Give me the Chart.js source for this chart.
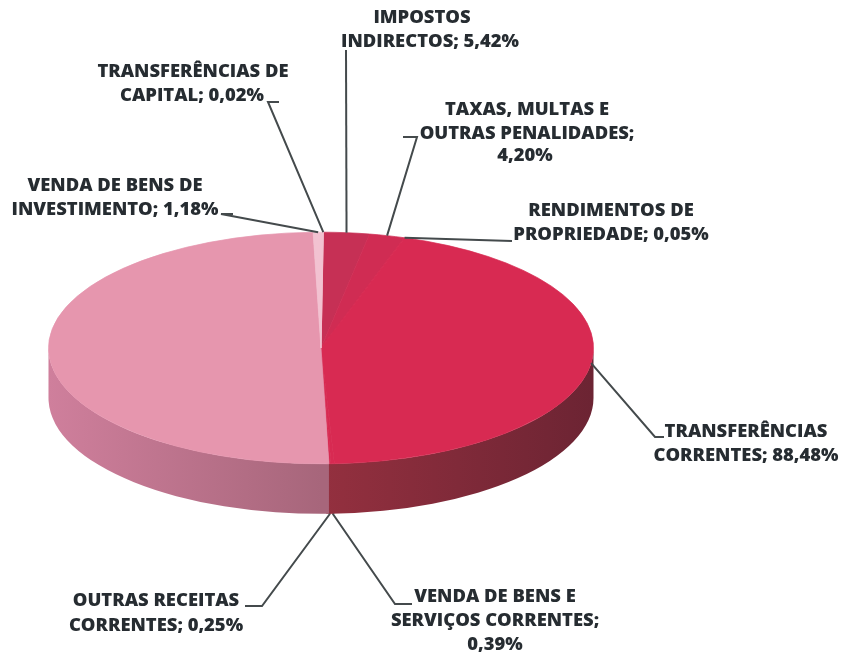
<!DOCTYPE html>
<html><head><meta charset="utf-8">
<style>html,body{margin:0;padding:0;background:#fff}canvas{display:block}</style>
<script src="https://cdn.jsdelivr.net/npm/chart.js@4"></script>
</head><body><canvas id="c" width="842" height="657"></canvas>
<script>
// The reference pie also contains a 100% total row, which is the unlabelled pink half.
const categories = ["IMPOSTOS INDIRECTOS","TAXAS, MULTAS E OUTRAS PENALIDADES","RENDIMENTOS DE PROPRIEDADE","TRANSFERÊNCIAS CORRENTES","VENDA DE BENS E SERVIÇOS CORRENTES","OUTRAS RECEITAS CORRENTES","TOTAL","VENDA DE BENS DE INVESTIMENTO","TRANSFERÊNCIAS DE CAPITAL"];
const values = [5.42,4.20,0.05,88.48,0.39,0.25,100,1.18,0.02];
const faceColors = ["#c63055","#d02c53","#d82a52","#d82a52","#d82a52","#d82a52","#e696ae","#f2c2d1","#f2c2d1"];
const wallStops = {red:["#94303f","#6c2433"],pink:["#cf7f9c","#a7667b"]};
const labelLines = [
 [["IMPOSTOS",422,18],["INDIRECTOS; 5,42%",430,42]],
 [["TAXAS, MULTAS E",527,110],["OUTRAS PENALIDADES;",527,134],["4,20%",525,156]],
 [["RENDIMENTOS DE",611,211],["PROPRIEDADE; 0,05%",611,235]],
 [["TRANSFERÊNCIAS",746,432],["CORRENTES; 88,48%",746,456]],
 [["VENDA DE BENS E",495,597],["SERVIÇOS CORRENTES;",495,621],["0,39%",495,645]],
 [["OUTRAS RECEITAS",156,601],["CORRENTES; 0,25%",156,626]],
 [],
 [["VENDA DE BENS DE",115,186],["INVESTIMENTO; 1,18%",115,210]],
 [["TRANSFERÊNCIAS DE",193,72],["CAPITAL; 0,02%",192,96]]
];
const leaderPaths = [
 [[346,50]],
 [[417,137],[403,137]],
 [[512,241]],
 [[655,437],[664,437]],
 [[395,604],[412,604]],
 [[262,606],[245,606]],
 [],
 [[221,214],[233,214]],
 [[268,102],[279,102]]
];
const anchorOnBase = [false,false,false,false,true,true,false,false,false];
const squash = 0.425, depth = 50;

const pie3d = {
 id:'pie3d',
 beforeDatasetDraw(chart){
  const ctx=chart.ctx, arcs=chart.getDatasetMeta(0).data;
  const cx=arcs[0].x, cy=arcs[0].y, rx=arcs[0].outerRadius, ry=rx*squash;
  const paint=(from,to,stops)=>{
   if(to<=from) return;
   const g=ctx.createLinearGradient(stops.x0,0,stops.x1,0);
   g.addColorStop(0,stops.c[0]); g.addColorStop(1,stops.c[1]);
   ctx.beginPath();
   ctx.ellipse(cx,cy+depth,rx,ry,0,from,to,false);
   ctx.ellipse(cx,cy,rx,ry,0,to,from,true);
   ctx.closePath(); ctx.fillStyle=g; ctx.fill();
  };
  arcs.forEach((a,i)=>{
   const from=Math.max(a.startAngle,0), to=Math.min(a.endAngle+0.01,Math.PI);
   const isRed=i<6;
   paint(from,to,isRed?{x0:cx,x1:cx+rx,c:wallStops.red}:{x0:cx,x1:cx-rx,c:[wallStops.pink[1],wallStops.pink[0]]});
  });
  ctx.save();
  ctx.translate(cx,cy); ctx.scale(1,squash); ctx.translate(-cx,-cy);
 },
 afterDatasetDraw(chart){ chart.ctx.restore(); },
 afterDraw(chart){
  const ctx=chart.ctx, arcs=chart.getDatasetMeta(0).data;
  ctx.save();
  arcs.forEach((a,i)=>{
   if(!leaderPaths[i].length) return;
   const m=(a.startAngle+a.endAngle)/2;
   const ax=a.x+a.outerRadius*Math.cos(m);
   const ay=a.y+a.outerRadius*squash*Math.sin(m)+(anchorOnBase[i]?depth:0);
   ctx.beginPath(); ctx.moveTo(ax,ay);
   leaderPaths[i].forEach(p=>ctx.lineTo(p[0],p[1]));
   ctx.strokeStyle='#444a4c'; ctx.lineWidth=2; ctx.stroke();
  });
  ctx.font='800 18.4px "Open Sans"'; ctx.fillStyle='#262c31'; ctx.textAlign='center'; ctx.textBaseline='middle';
  labelLines.forEach(ls=>ls.forEach(l=>ctx.fillText(l[0],l[1],l[2])));
  ctx.restore();
 }
};

new Chart(document.getElementById('c'),{
 type:'pie',
 data:{labels:categories,datasets:[{data:values,backgroundColor:faceColors,borderColor:faceColors,borderWidth:1,clip:false}]},
 options:{
  responsive:false,animation:false,rotation:0.5,
  layout:{padding:{left:48,right:248,top:75,bottom:36}},
  plugins:{legend:{display:false},tooltip:{enabled:false}}
 },
 plugins:[pie3d]
});
</script></body></html>
